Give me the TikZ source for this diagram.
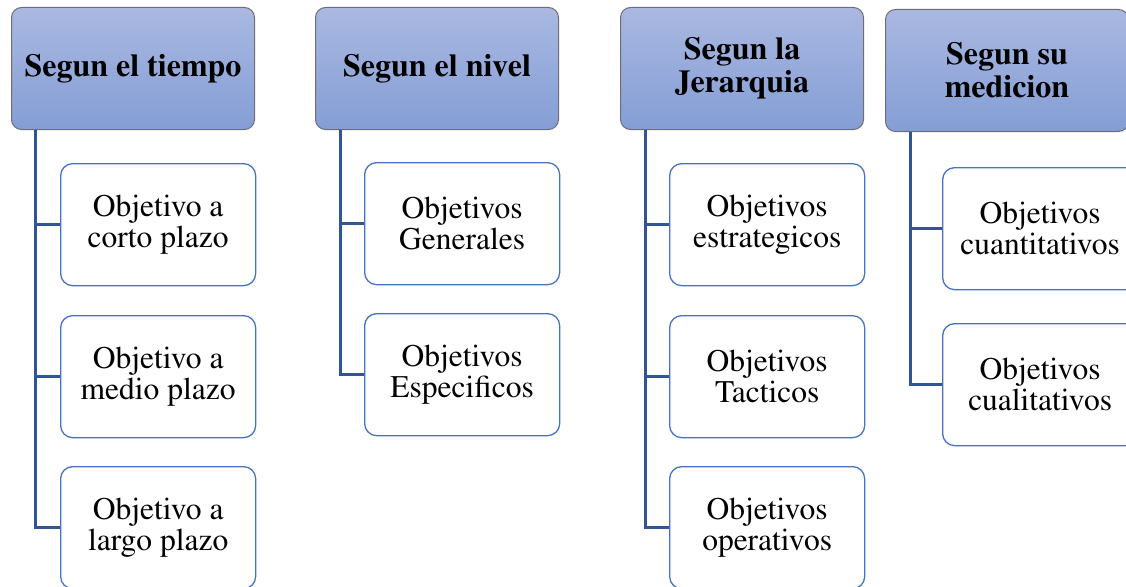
\documentclass[tikz,border=0pt]{standalone}
\usepackage[T1]{fontenc}
\renewcommand{\rmdefault}{ptm}
\definecolor{hdrtop}{RGB}{170,184,225}
\definecolor{hdrbot}{RGB}{132,158,213}
\definecolor{hdrline}{RGB}{110,110,120}
\definecolor{kidline}{RGB}{68,114,196}
\definecolor{connline}{RGB}{47,85,151}
\tikzset{
  hdr/.style={draw=hdrline, line width=1pt, rounded corners=10pt, top color=hdrtop, bottom color=hdrbot,
    minimum width=243pt, minimum height=122pt, anchor=north west, align=center, inner sep=0pt,
    font=\fontsize{32}{33}\selectfont\bfseries},
  kid/.style={draw=kidline, line width=1.3pt, rounded corners=12pt, fill=white,
    minimum width=195pt, minimum height=122pt, anchor=north west, align=center, inner sep=0pt,
    font=\fontsize{31.5}{31}\selectfont},
  conn/.style={draw=connline, line width=3pt}
}
\begin{document}
\begin{tikzpicture}[x=1pt,y=-1pt]
\useasboundingbox (0,0) rectangle (1126,586);
\clip (0,0) rectangle (1126,586);
% column 1
\node[hdr] (h1) at (11,7) {Segun el tiempo};
\node[kid] (a1) at (60,163) {Objetivo a\\corto plazo};
\node[kid] (a2) at (60,315) {Objetivo a\\medio plazo};
\node[kid] (a3) at (60,466) {Objetivo a\\largo plazo};
\draw[conn] ([xshift=24pt]h1.south west) |- (a1.west);
\draw[conn] ([xshift=24pt]h1.south west) |- (a2.west);
\draw[conn] ([xshift=24pt]h1.south west) |- (a3.west);
% column 2
\node[hdr] (h2) at (315,7) {Segun el nivel};
\node[kid] (b1) at (364,162) {Objetivos\\Generales};
\node[kid] (b2) at (364,313) {Objetivos\\Especificos};
\draw[conn] ([xshift=25pt]h2.south west) |- (b1.west);
\draw[conn] ([xshift=25pt]h2.south west) |- (b2.west);
% column 3
\node[hdr] (h3) at (620,7) {Segun la\\Jerarquia};
\node[kid] (c1) at (669,163) {Objetivos\\estrategicos};
\node[kid] (c2) at (669,315) {Objetivos\\Tacticos};
\node[kid] (c3) at (669,466) {Objetivos\\operativos};
\draw[conn] ([xshift=25pt]h3.south west) |- (c1.west);
\draw[conn] ([xshift=25pt]h3.south west) |- (c2.west);
\draw[conn] ([xshift=25pt]h3.south west) |- (c3.west);
% column 4
\node[hdr] (h4) at (885,9) {Segun su\\medicion};
\node[kid] (d1) at (942,167) {Objetivos\\cuantitativos};
\node[kid] (d2) at (942,323) {Objetivos\\cualitativos};
\draw[conn] ([xshift=25pt]h4.south west) |- (d1.west);
\draw[conn] ([xshift=25pt]h4.south west) |- (d2.west);
\end{tikzpicture}
\end{document}
